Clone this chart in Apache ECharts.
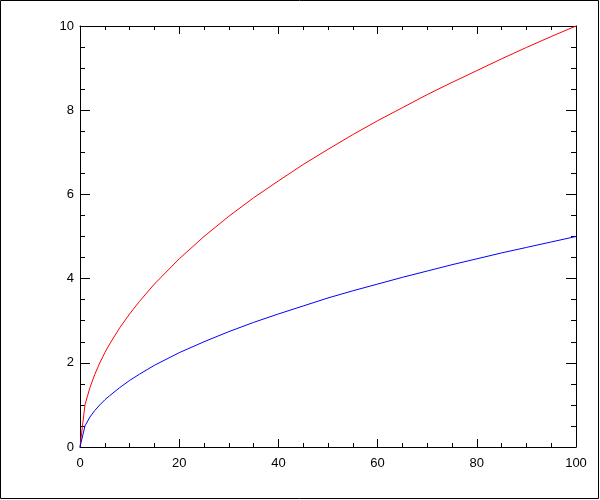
<!DOCTYPE html>
<html><head><meta charset="utf-8">
<script src="https://cdn.jsdelivr.net/npm/echarts@6/dist/echarts.min.js"></script>
<style>html,body{margin:0;padding:0;background:#fff}#c{width:600px;height:500px}</style>
</head><body><div id="c"></div>
<script>
var xValues = [0,1,2,3,4,5,6,8,10,12,15,20,25,30,35,40,45,50,55,60,65,70,75,80,85,90,95,100];
var redValues = [0,1,1.41,1.73,2,2.24,2.45,2.83,3.16,3.46,3.87,4.47,5,5.48,5.92,6.32,6.71,7.07,7.42,7.75,8.06,8.37,8.66,8.94,9.22,9.49,9.75,10];
var blueValues = [0,0.5,0.71,0.87,1,1.12,1.22,1.41,1.58,1.73,1.94,2.24,2.5,2.74,2.96,3.16,3.35,3.54,3.71,3.87,4.03,4.18,4.33,4.47,4.61,4.74,4.87,5];
var xTicks = [0,20,40,60,80,100];
var yTicks = [0,2,4,6,8,10];

function pairs(xs, ys){ return xs.map(function(x,i){ return [x, ys[i]]; }); }
var lbl = {color:'#000', fontFamily:'Liberation Sans, Arial, sans-serif', fontSize:13};
function xAxis(pos, showLabel){
  return {type:'value', position:pos, min:xTicks[0], max:xTicks[xTicks.length-1], interval:20,
    axisLine:{show:true, onZero:false, lineStyle:{color:'#000', width:1}},
    axisTick:{show:true, inside:true, length:8, lineStyle:{color:'#000'}},
    minorTick:{show:true, splitNumber:4, length:4, lineStyle:{color:'#000'}},
    splitLine:{show:false},
    axisLabel:Object.assign({show:showLabel, margin:10}, lbl)};
}
function yAxis(pos, showLabel){
  return {type:'value', position:pos, min:yTicks[0], max:yTicks[yTicks.length-1], interval:2,
    axisLine:{show:true, onZero:false, lineStyle:{color:'#000', width:1}},
    axisTick:{show:true, inside:true, length:10, lineStyle:{color:'#000'}},
    minorTick:{show:true, splitNumber:4, length:5, lineStyle:{color:'#000'}},
    splitLine:{show:false},
    axisLabel:Object.assign({show:showLabel, margin:6}, lbl)};
}
var chart = echarts.init(document.getElementById('c'));
chart.setOption({
  animation:false,
  backgroundColor:'#fff',
  grid:{left:80, top:26, width:496, height:421, containLabel:false},
  xAxis:[xAxis('bottom', true), xAxis('top', false)],
  yAxis:[yAxis('left', true), yAxis('right', false)],
  graphic:[{type:'rect', shape:{x:0.5, y:0.5, width:598, height:498}, style:{fill:null, stroke:'#000', lineWidth:1}, silent:true}],
  series:[
    {type:'line', data:pairs(xValues, redValues), symbol:'none', smooth:false, lineStyle:{color:'#ff0000', width:1}},
    {type:'line', data:pairs(xValues, blueValues), symbol:'none', smooth:false, lineStyle:{color:'#0000ff', width:1}}
  ]
});
</script></body></html>
